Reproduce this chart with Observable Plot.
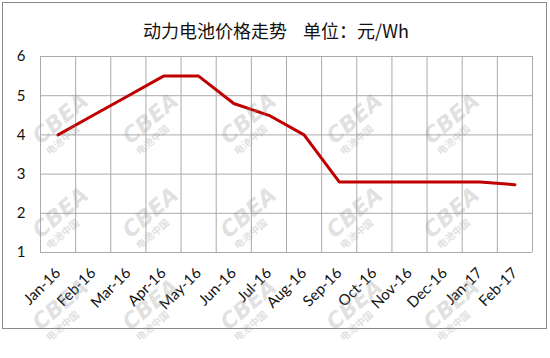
<!DOCTYPE html>
<html>
<head>
<meta charset="utf-8">
<script src="https://cdn.jsdelivr.net/npm/d3@7"></script>
<script src="https://cdn.jsdelivr.net/npm/@observablehq/plot@0.6"></script>
<style>
  body { margin: 0; background: #fff; }
  #wrap { position: relative; width: 550px; height: 358px; background: #fff; }
  #box { position: absolute; left: 2px; top: 2px; width: 543px; height: 325px; border: 1px solid #8a8a8a; }
  #title { position: absolute; left: 0; width: 552px; top: 18px; text-align: center; white-space: nowrap;
           font-family: "Noto Sans CJK SC", sans-serif; font-size: 18px; line-height: 24px; color: #111; }
  #title .gap { display: inline-block; width: 16px; }
  #chart, #stamp { position: absolute; left: 0; top: 0; }
</style>
</head>
<body>
<div id="wrap">
  <div id="box"></div>
  <div id="chart"></div>
  <div id="title">动力电池价格走势<span class="gap"></span>单位：元/Wh</div>
</div>
<script>
const months = ["Jan-16","Feb-16","Mar-16","Apr-16","May-16","Jun-16","Jul-16",
                "Aug-16","Sep-16","Oct-16","Nov-16","Dec-16","Jan-17","Feb-17"];
const prices = [4.0, 4.5, 5.0, 5.5, 5.5, 4.8, 4.5, 4.0, 2.8, 2.8, 2.8, 2.8, 2.8, 2.73];
const yTicks = [1, 2, 3, 4, 5, 6];

const data = months.map((m, i) => ({i, month: m, price: prices[i]}));
// category boundaries for the vertical grid
const edges = d3.range(months.length + 1).map(i => i - 0.5);

const chart = Plot.plot({
  width: 550,
  height: 330,
  marginTop: 56,
  marginBottom: 78,
  marginLeft: 40,
  marginRight: 18,
  style: {background: "transparent", fontFamily: "Lato, sans-serif", fontSize: "15px", color: "#111"},
  x: {type: "linear", domain: [-0.5, months.length - 0.5]},
  y: {domain: [1, 6]},
  marks: [
    Plot.ruleY(yTicks, {stroke: "#ababab", strokeWidth: 1}),
    Plot.ruleX(edges, {stroke: "#ababab", strokeWidth: 1}),
    Plot.axisY(yTicks, {tickSize: 0, tickPadding: 15, label: null, fontSize: 15}),
    Plot.axisX(d3.range(months.length), {
      tickSize: 0, tickPadding: 18, tickRotate: -45, label: null,
      tickFormat: i => months[i], fontSize: 15
    }),
    Plot.line(data, {x: "i", y: "price", stroke: "#c00000", strokeWidth: 3})
  ]
});
document.getElementById("chart").appendChild(chart);

// faint "CBEA 电池中国" stamp repeated across the chart
const stampCols = [60, 150, 248, 354, 451];
const stampRows = [118, 212, 304];
const svg = d3.select("#wrap").append("svg")
  .attr("id", "stamp").attr("width", 550).attr("height", 358)
  .style("pointer-events", "none");
stampRows.forEach(y => stampCols.forEach(x => {
  const g = svg.append("g")
    .attr("transform", `translate(${x},${y}) rotate(-40)`)
    .attr("fill", "rgba(150,150,150,0.3)");
  g.append("text").text("CBEA")
    .attr("text-anchor", "middle").attr("y", 8)
    .attr("font-family", "DejaVu Sans, sans-serif").attr("font-weight", "bold")
    .attr("font-style", "italic").attr("font-size", 22);
  g.append("text").text("电池中国")
    .attr("text-anchor", "middle").attr("x", -12).attr("y", 22)
    .attr("font-family", "Noto Sans CJK SC, sans-serif").attr("font-weight", "bold")
    .attr("font-size", 10);
}));
</script>
</body>
</html>
